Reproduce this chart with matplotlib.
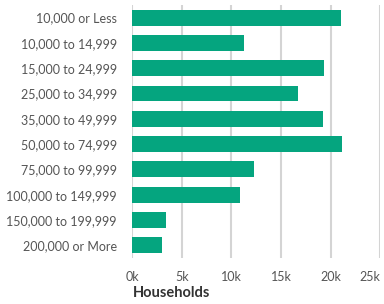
import matplotlib
matplotlib.use("Agg")
import matplotlib.pyplot as plt
from matplotlib.ticker import FixedLocator

# income brackets and household counts (thousands)
brackets = ["10,000 or Less", "10,000 to 14,999", "15,000 to 24,999", "25,000 to 34,999",
            "35,000 to 49,999", "50,000 to 74,999", "75,000 to 99,999", "100,000 to 149,999",
            "150,000 to 199,999", "200,000 or More"]
households = [21.1, 11.3, 19.3, 16.7, 19.2, 21.2, 12.3, 10.9, 3.4, 3.0]
ticks = [0, 5, 10, 15, 20, 25]
tick_labels = ["0k", "5k", "10k", "15k", "20k", "25k"]

plt.rcParams['font.family'] = ['Lato', 'DejaVu Sans']

fig = plt.figure(figsize=(3.84, 3.04), dpi=100)
ax = fig.add_axes([0.344, 0.151, 0.646, 0.833])

ax.barh(range(len(brackets)), households, height=0.63, color="#05a57f", zorder=3)

ax.set_xlim(0, 25)
ax.set_ylim(len(brackets) - 0.5, -0.5)
ax.xaxis.set_major_locator(FixedLocator(ticks))
ax.set_xticklabels(tick_labels)
ax.set_yticks(range(len(brackets)))
ax.set_yticklabels(brackets)

ax.grid(axis="x", color="#d4d4d4", linewidth=1.5, zorder=0)
for s in ax.spines.values():
    s.set_visible(False)
ax.tick_params(axis="both", length=0, labelsize=9, colors="#555555")
ax.tick_params(axis="y", pad=11)
ax.tick_params(axis="x", pad=9)
ax.get_xticklabels()[-1].set_horizontalalignment("right")

fig.text(0.346, 0.022, "Households", fontsize=10.5, fontweight="bold", color="#333333")

fig.savefig("out.png", dpi=100)
